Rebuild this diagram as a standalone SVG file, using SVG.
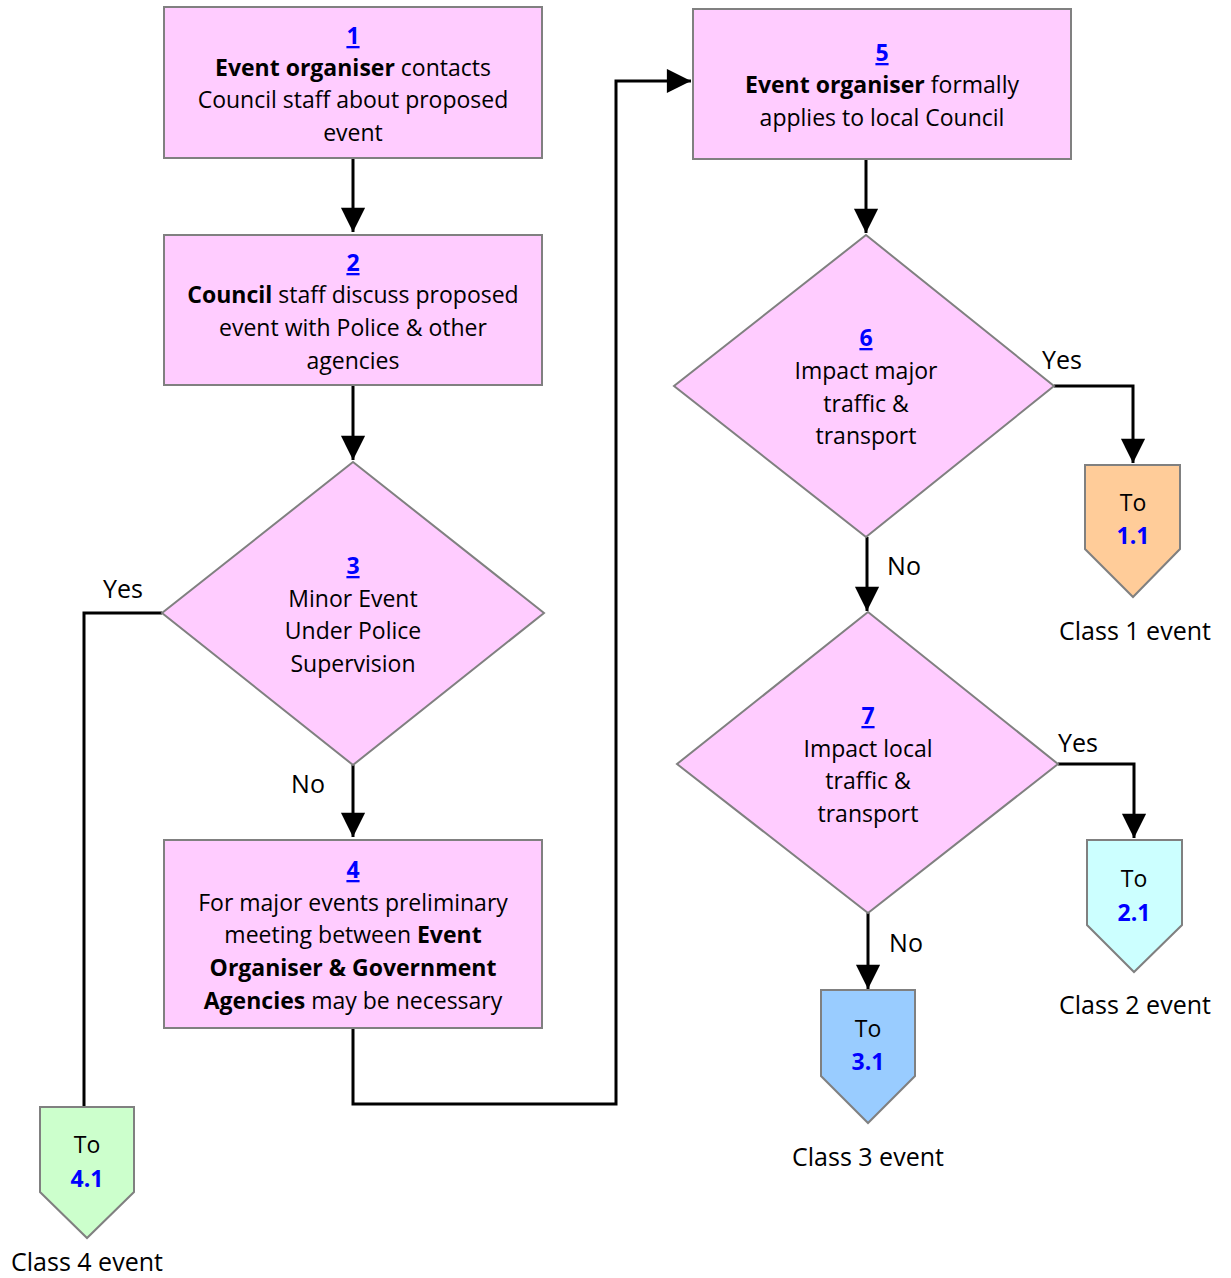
<svg xmlns="http://www.w3.org/2000/svg" width="1231" height="1278" viewBox="0 0 1231 1278">
<defs>
<style>
text{font-family:"Open Sans","Noto Sans",sans-serif;font-size:23px;fill:#000;text-anchor:middle}
.n{fill:#0000FF;font-weight:bold;text-decoration:underline}
.b{font-weight:bold}
.c{fill:#0000FF;font-weight:bold}
.lbl{font-size:25px}
.box{fill:#FFCCFF;stroke:#808080;stroke-width:2}
.pent{stroke:#808080;stroke-width:2}
.ln{fill:none;stroke:#000;stroke-width:3}
</style>
<marker id="a" viewBox="0 0 26 28" refX="26" refY="13" markerWidth="26" markerHeight="26" markerUnits="userSpaceOnUse" orient="auto">
<path d="M0,0 L26,13 L0,26 Z" fill="#000"/>
</marker>
</defs>
<rect width="1231" height="1278" fill="#fff"/>
<g id="connectors">
<path class="ln" d="M353,158 V232" marker-end="url(#a)"/>
<path class="ln" d="M353,385 V460" marker-end="url(#a)"/>
<path class="ln" d="M353,765 V837" marker-end="url(#a)"/>
<path class="ln" d="M162,613 H84 V1106"/>
<path class="ln" d="M353,1028 V1104 H616 V81 H691" marker-end="url(#a)"/>
<path class="ln" d="M866,159 V233" marker-end="url(#a)"/>
<path class="ln" d="M1054,386 H1133 V463" marker-end="url(#a)"/>
<path class="ln" d="M867,537 V611" marker-end="url(#a)"/>
<path class="ln" d="M1058,764 H1134 V838" marker-end="url(#a)"/>
<path class="ln" d="M868,913 V989" marker-end="url(#a)"/>
<text x="123" y="598" class="lbl">Yes</text>
<text x="308" y="793" class="lbl">No</text>
<text x="1062" y="369" class="lbl">Yes</text>
<text x="904" y="575" class="lbl">No</text>
<text x="1078" y="752" class="lbl">Yes</text>
<text x="906" y="952" class="lbl">No</text>
</g>
<g id="n1">
<rect class="box" x="164" y="7" width="378" height="151"/>
<text x="353" y="44" class="n">1</text>
<text x="353" y="76"><tspan class="b">Event organiser</tspan> contacts</text>
<text x="353" y="108">Council staff about proposed</text>
<text x="353" y="141">event</text>
</g>
<g id="n2">
<rect class="box" x="164" y="235" width="378" height="150"/>
<text x="353" y="271" class="n">2</text>
<text x="353" y="303"><tspan class="b">Council</tspan> staff discuss proposed</text>
<text x="353" y="336">event with Police &amp; other</text>
<text x="353" y="369">agencies</text>
</g>
<g id="n3">
<polygon class="box" points="353,462 544,613 353,765 162,613"/>
<text x="353" y="574" class="n">3</text>
<text x="353" y="607">Minor Event</text>
<text x="353" y="639">Under Police</text>
<text x="353" y="672">Supervision</text>
</g>
<g id="n4">
<rect class="box" x="164" y="840" width="378" height="188"/>
<text x="353" y="878" class="n">4</text>
<text x="353" y="911">For major events preliminary</text>
<text x="353" y="943">meeting between <tspan class="b">Event</tspan></text>
<text x="353" y="976" class="b">Organiser &amp; Government</text>
<text x="353" y="1009"><tspan class="b">Agencies</tspan> may be necessary</text>
</g>
<g id="n5">
<rect class="box" x="693" y="9" width="378" height="150"/>
<text x="882" y="61" class="n">5</text>
<text x="882" y="93"><tspan class="b">Event organiser</tspan> formally</text>
<text x="882" y="126">applies to local Council</text>
</g>
<g id="n6">
<polygon class="box" points="866,235 1054,386 866,537 674,386"/>
<text x="866" y="346" class="n">6</text>
<text x="866" y="379">Impact major</text>
<text x="866" y="412">traffic &amp;</text>
<text x="866" y="444">transport</text>
</g>
<g id="n7">
<polygon class="box" points="868,612 1058,764 868,913 677,764"/>
<text x="868" y="724" class="n">7</text>
<text x="868" y="757">Impact local</text>
<text x="868" y="789">traffic &amp;</text>
<text x="868" y="822">transport</text>
</g>
<g id="p41">
<polygon class="pent" fill="#CCFFCC" points="40,1107 134,1107 134,1192 87,1238 40,1192"/>
<text x="87" y="1153">To</text>
<text x="87" y="1187" class="c">4.1</text>
<text x="87" y="1271" class="lbl">Class 4 event</text>
</g>
<g id="p11">
<polygon class="pent" fill="#FFCC99" points="1085,465 1180,465 1180,549 1133,597 1085,549"/>
<text x="1133" y="511">To</text>
<text x="1133" y="544" class="c">1.1</text>
<text x="1135" y="640" class="lbl">Class 1 event</text>
</g>
<g id="p21">
<polygon class="pent" fill="#CCFFFF" points="1087,840 1182,840 1182,925 1134,972 1087,925"/>
<text x="1134" y="887">To</text>
<text x="1134" y="921" class="c">2.1</text>
<text x="1135" y="1014" class="lbl">Class 2 event</text>
</g>
<g id="p31">
<polygon class="pent" fill="#99CCFF" points="821,990 915,990 915,1076 868,1123 821,1076"/>
<text x="868" y="1037">To</text>
<text x="868" y="1070" class="c">3.1</text>
<text x="868" y="1166" class="lbl">Class 3 event</text>
</g>
</svg>
